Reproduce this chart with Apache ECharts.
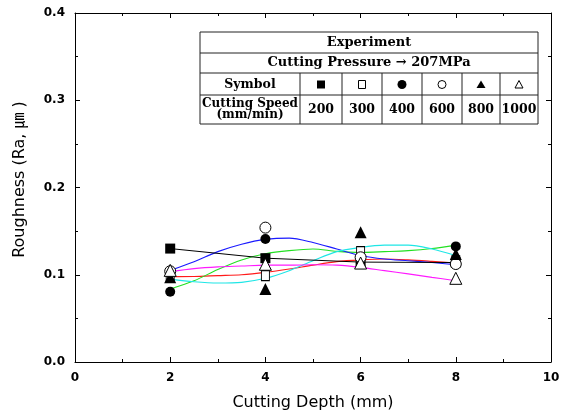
<!DOCTYPE html>
<html><head><meta charset="utf-8">
<script src="https://cdn.jsdelivr.net/npm/echarts@6/dist/echarts.min.js"></script>
<style>html,body{margin:0;padding:0;background:#fff}#c{width:567px;height:417px}</style>
</head><body><div id="c"></div>
<script>
// ---- data ----
const depths = [2, 4, 6, 8];
const speeds = ['200', '300', '400', '600', '800', '1000'];
const ra200  = [0.130, 0.119, 0.1145, 0.114];
const ra300  = [0.098, 0.099, 0.1265, 0.116];
const ra400  = [0.0806, 0.141, 0.120, 0.1325];
const ra600  = [0.104, 0.154, 0.120, 0.1123];
const ra800  = [0.097, 0.0836, 0.1486, 0.1237];
const ra1000 = [0.105, 0.112, 0.1134, 0.0959];
const fitDepths = [2, 2.5, 3, 3.5, 4, 4.5, 5, 5.5, 6, 6.5, 7, 7.5, 8];
const fit300  = [0.0978, 0.098, 0.099, 0.100, 0.1027, 0.1065, 0.111, 0.115, 0.117, 0.118, 0.117, 0.1153, 0.1134];
const fit400  = [0.0836, 0.093, 0.106, 0.117, 0.124, 0.1276, 0.1295, 0.1268, 0.1257, 0.1265, 0.1276, 0.130, 0.134];
const fit600  = [0.105, 0.115, 0.1265, 0.135, 0.1405, 0.142, 0.137, 0.1295, 0.122, 0.118, 0.116, 0.114, 0.1115];
const fit800  = [0.095, 0.092, 0.0905, 0.0913, 0.0959, 0.1047, 0.116, 0.1265, 0.1314, 0.134, 0.134, 0.1295, 0.122];
const fit1000 = [0.1035, 0.107, 0.109, 0.110, 0.111, 0.111, 0.1115, 0.111, 0.1085, 0.1047, 0.101, 0.097, 0.0932];
const xName = 'Cutting Depth (mm)';
const yName = 'Roughness (Ra, \u339B )';
const tableTitle = 'Experiment';
const tableSub = 'Cutting Pressure \u2192 207MPa';

// ---- build ----
const pair = (xs, ys) => xs.map((x, i) => [x, ys[i]]);
const chart = echarts.init(document.getElementById('c'));
const tickFont = { fontFamily: 'DejaVu Sans', fontWeight: 'bold', fontSize: 12, color: '#000' };
const axisCommon = {
  axisLine: { onZero: false, lineStyle: { color: '#000', width: 1 } },
  axisTick: { inside: true, length: 5, lineStyle: { color: '#000' } },
  minorTick: { show: true, splitNumber: 2, length: 3, lineStyle: { color: '#000' } },
  splitLine: { show: false }, minorSplitLine: { show: false }
};
function curve(ys, color) {
  return { type: 'line', data: pair(fitDepths, ys), smooth: 0.3, symbol: 'none',
    lineStyle: { color, width: 1.1 }, z: 2, silent: true };
}
function marks(ys, symbol, size, filled) {
  return { type: 'scatter', data: pair(depths, ys), symbol, symbolSize: size, z: 5,
    itemStyle: filled ? { color: '#000', opacity: 1 } : { color: '#fff', borderColor: '#000', borderWidth: 1, opacity: 1 } };
}

// table graphic
const tl = 200, tr = 538, rowY = [32, 53, 73, 95, 124];
const colX = [200, 300, 342, 382, 422, 462, 500, 538];
const g = [];
g.push({ type: 'rect', shape: { x: tl, y: rowY[0], width: tr - tl, height: rowY[4] - rowY[0] },
  style: { fill: '#fff', stroke: '#222', lineWidth: 1 }, z: 10 });
for (let i = 1; i < 4; i++) g.push({ type: 'line', shape: { x1: tl, y1: rowY[i], x2: tr, y2: rowY[i] }, style: { stroke: '#222', lineWidth: 1 }, z: 11 });
for (let i = 1; i < 7; i++) g.push({ type: 'line', shape: { x1: colX[i], y1: rowY[2], x2: colX[i], y2: rowY[4] }, style: { stroke: '#222', lineWidth: 1 }, z: 11 });
const serif = 'DejaVu Serif';
function txt(s, x, y, size) {
  return { type: 'text', x, y, z: 12, style: { text: s, fill: '#000', font: 'bold ' + size + 'px "' + serif + '"', align: 'center', verticalAlign: 'middle' } };
}
g.push(txt(tableTitle, (tl + tr) / 2, 43, 13));
g.push(txt(tableSub, (tl + tr) / 2, 63, 13));
g.push(txt('Symbol', 250, 84.5, 12.5));
g.push(txt('Cutting Speed', 250, 104, 12));
g.push(txt('(mm/min)', 250, 115, 12));
for (let i = 0; i < 6; i++) g.push(txt(speeds[i], (colX[i + 1] + colX[i + 2]) / 2, 110, 12.5));
const cy = 84.5;
const cxs = colX.slice(1, 7).map((x, i) => (x + colX[i + 2]) / 2);
g.push({ type: 'rect', shape: { x: cxs[0] - 4, y: cy - 4, width: 8, height: 8 }, style: { fill: '#000' }, z: 12 });
g.push({ type: 'rect', shape: { x: cxs[1] - 3.5, y: cy - 4, width: 7, height: 8 }, style: { fill: '#fff', stroke: '#000', lineWidth: 1 }, z: 12 });
g.push({ type: 'circle', shape: { cx: cxs[2], cy, r: 4.5 }, style: { fill: '#000' }, z: 12 });
g.push({ type: 'circle', shape: { cx: cxs[3], cy, r: 4 }, style: { fill: '#fff', stroke: '#000', lineWidth: 1 }, z: 12 });
g.push({ type: 'polygon', shape: { points: [[cxs[4], cy - 4], [cxs[4] + 4.5, cy + 3.5], [cxs[4] - 4.5, cy + 3.5]] }, style: { fill: '#000' }, z: 12 });
g.push({ type: 'polygon', shape: { points: [[cxs[5], cy - 4], [cxs[5] + 4, cy + 3.5], [cxs[5] - 4, cy + 3.5]] }, style: { fill: '#fff', stroke: '#000', lineWidth: 1 }, z: 12 });

chart.setOption({
  animation: false,
  backgroundColor: '#fff',
  grid: { left: 75, right: 16, top: 13, bottom: 55, outerBoundsMode: 'none', containLabel: false },
  xAxis: [
    Object.assign({ type: 'value', min: 0, max: 10, interval: 2, position: 'bottom',
      axisLabel: Object.assign({ margin: 10 }, tickFont),
      name: xName, nameLocation: 'middle', nameGap: 33,
      nameTextStyle: { fontFamily: 'DejaVu Sans', fontSize: 16, color: '#000' } }, axisCommon),
    Object.assign({ type: 'value', min: 0, max: 10, interval: 2, position: 'top', axisLabel: { show: false } }, axisCommon)
  ],
  yAxis: [
    Object.assign({ type: 'value', min: 0, max: 0.4, interval: 0.1, position: 'left',
      axisLabel: Object.assign({ margin: 10, formatter: v => v.toFixed(1) }, tickFont),
      name: yName, nameLocation: 'middle', nameGap: 47,
      nameTextStyle: { fontFamily: 'DejaVu Sans, "Noto Sans CJK KR"', fontSize: 16, color: '#000', padding: [0, 0, 0, 16] } }, axisCommon),
    Object.assign({ type: 'value', min: 0, max: 0.4, interval: 0.1, position: 'right', axisLabel: { show: false } }, axisCommon)
  ],
  series: [
    curve(fit300, '#ff1a1a'),
    curve(fit400, '#22e022'),
    curve(fit600, '#1a1aff'),
    curve(fit800, '#1ee6e6'),
    curve(fit1000, '#ff1aff'),
    { type: 'line', data: pair(depths, ra200), symbol: 'rect', symbolSize: 10, z: 3,
      lineStyle: { color: '#000', width: 1 }, itemStyle: { color: '#000' } },
    marks(ra300, 'rect', [8, 10], false),
    marks(ra400, 'circle', 10, true),
    marks(ra600, 'circle', 11, false),
    marks(ra800, 'triangle', [12, 12], true),
    marks(ra1000, 'triangle', [12, 12], false)
  ],
  graphic: g
});
</script></body></html>
